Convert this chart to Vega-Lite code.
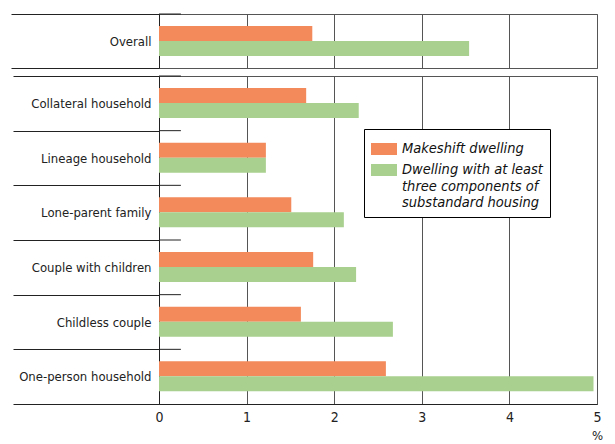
{
  "$schema": "https://vega.github.io/schema/vega-lite/v6.json",
  "padding": {"left": 10, "top": 7, "right": 10, "bottom": 0},
  "spacing": 0,
  "datasets": {
    "rows": [
      {"panel": "top", "cat": "Overall", "series": "Makeshift dwelling", "value": 1.75},
      {"panel": "top", "cat": "Overall", "series": "Dwelling with at least|three components of|substandard housing", "value": 3.54},
      {"panel": "bottom", "cat": "Collateral household", "series": "Makeshift dwelling", "value": 1.68},
      {"panel": "bottom", "cat": "Collateral household", "series": "Dwelling with at least|three components of|substandard housing", "value": 2.28},
      {"panel": "bottom", "cat": "Lineage household", "series": "Makeshift dwelling", "value": 1.22},
      {"panel": "bottom", "cat": "Lineage household", "series": "Dwelling with at least|three components of|substandard housing", "value": 1.22},
      {"panel": "bottom", "cat": "Lone-parent family", "series": "Makeshift dwelling", "value": 1.51},
      {"panel": "bottom", "cat": "Lone-parent family", "series": "Dwelling with at least|three components of|substandard housing", "value": 2.11},
      {"panel": "bottom", "cat": "Couple with children", "series": "Makeshift dwelling", "value": 1.76},
      {"panel": "bottom", "cat": "Couple with children", "series": "Dwelling with at least|three components of|substandard housing", "value": 2.25},
      {"panel": "bottom", "cat": "Childless couple", "series": "Makeshift dwelling", "value": 1.62},
      {"panel": "bottom", "cat": "Childless couple", "series": "Dwelling with at least|three components of|substandard housing", "value": 2.67},
      {"panel": "bottom", "cat": "One-person household", "series": "Makeshift dwelling", "value": 2.59},
      {"panel": "bottom", "cat": "One-person household", "series": "Dwelling with at least|three components of|substandard housing", "value": 4.96}
    ]
  },
  "data": {"name": "rows"},
  "resolve": {"legend": {"color": "independent"}},
  "vconcat": [
    {
      "width": 438,
      "height": 54,
      "transform": [{"filter": "datum.panel == 'top'"}],
      "layer": [
        {
          "mark": {"type": "bar"},
          "encoding": {
            "y": {"field": "cat", "type": "nominal", "scale": {"paddingInner": 0, "paddingOuter": 0},
              "axis": {"title": null, "tickBand": "extent", "tickSize": 148, "tickColor": "#222", "labelPadding": -140, "labelFontSize": 13, "labelFont": "DejaVu Sans Condensed", "labelColor": "#222", "domainColor": "#222", "labelLimit": 200}},
            "yOffset": {"field": "series", "type": "nominal", "sort": ["Makeshift dwelling"], "scale": {"paddingOuter": 0.8, "paddingInner": 0}},
            "x": {"field": "value", "type": "quantitative", "scale": {"domain": [0, 5], "nice": false},
              "axis": {"title": null, "labels": false, "ticks": false, "domain": false, "grid": true, "gridColor": "#555", "tickCount": 5, "orient": "bottom", "minExtent": 0, "maxExtent": 0, "offset": 0}},
            "color": {"field": "series", "type": "nominal", "sort": ["Makeshift dwelling"], "scale": {"range": ["#F28A5B", "#A9D08E"]}, "legend": null}
          }
        },
        {
          "mark": {"type": "rule", "color": "#222"},
          "transform": [{"filter": "datum.series == 'Makeshift dwelling'"}],
          "encoding": {
            "y": {"field": "cat", "type": "nominal", "bandPosition": 0},
            "x": {"datum": 0},
            "x2": {"datum": 0.25}
          }
        }
      ]
    },
    {
      "width": 438,
      "height": 328,
      "transform": [{"filter": "datum.panel == 'bottom'"}],
      "layer": [
        {
          "mark": {"type": "bar"},
          "encoding": {
            "y": {"field": "cat", "type": "nominal",
              "sort": ["Collateral household", "Lineage household", "Lone-parent family", "Couple with children", "Childless couple", "One-person household"],
              "scale": {"paddingInner": 0, "paddingOuter": 0},
              "axis": {"title": null, "tickBand": "extent", "tickSize": 146, "tickColor": "#222", "labelPadding": -138, "labelFontSize": 13, "labelFont": "DejaVu Sans Condensed", "labelColor": "#222", "domainColor": "#222", "labelLimit": 200}},
            "yOffset": {"field": "series", "type": "nominal", "sort": ["Makeshift dwelling"], "scale": {"paddingOuter": 1.1, "paddingInner": 0}},
            "x": {"field": "value", "type": "quantitative", "scale": {"domain": [0, 5], "nice": false},
              "axis": {"title": "%", "titleFont": "DejaVu Sans Condensed", "titleFontWeight": "normal", "titleFontSize": 13, "titleColor": "#222", "titleX": 438, "titleY": 31, "titleAlign": "center", "titleBaseline": "middle",
                "labels": true, "labelFlush": false, "labelFont": "DejaVu Sans Condensed", "labelFontSize": 14, "labelColor": "#222", "labelPadding": 6, "ticks": false, "domain": true, "domainColor": "#222", "grid": true, "gridColor": "#555", "tickCount": 5}},
            "color": {"field": "series", "type": "nominal", "sort": ["Makeshift dwelling"], "scale": {"range": ["#F28A5B", "#A9D08E"]},
              "legend": {"orient": "none", "legendX": 205, "legendY": 53, "title": null, "fillColor": "white", "strokeColor": "#000", "padding": 7,
                "labelFont": "DejaVu Sans Condensed", "labelFontStyle": "italic", "labelFontSize": 14.5, "labelColor": "#111", "labelLimit": 300,
                "labelExpr": "split(datum.label, '|')", "symbolType": "M-1,-0.46L1,-0.46L1,0.46L-1,0.46Z", "symbolSize": 676, "symbolStrokeWidth": 0, "symbolOpacity": 1, "rowPadding": 1, "labelOffset": 5}}
          }
        },
        {
          "mark": {"type": "rule", "color": "#222"},
          "transform": [{"filter": "datum.series == 'Makeshift dwelling'"}],
          "encoding": {
            "y": {"field": "cat", "type": "nominal", "bandPosition": 0, "sort": ["Collateral household", "Lineage household", "Lone-parent family", "Couple with children", "Childless couple", "One-person household"]},
            "x": {"datum": 0},
            "x2": {"datum": 0.25}
          }
        }
      ]
    }
  ],
  "config": {
    "view": {"stroke": "#555"},
    "font": "DejaVu Sans Condensed"
  }
}
